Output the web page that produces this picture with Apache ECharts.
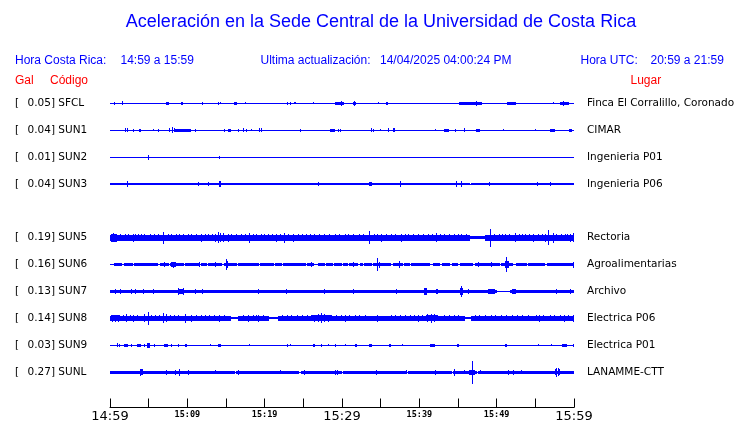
<!DOCTYPE html>
<html><head><meta charset="utf-8">
<script src="https://cdn.jsdelivr.net/npm/echarts@6/dist/echarts.min.js"></script>
<style>html,body{margin:0;padding:0;background:#fff}#c{width:740px;height:423px}</style>
</head><body><div id="c"></div>
<script>
// ---- data (time in minutes after 14:59; amplitude as half-height, 27 units = one trace spacing) ----
const stations = ['SFCL','SUN1','SUN2','SUN3','SUN5','SUN6','SUN7','SUN8','SUN9','SUNL'];
const rows = [0,1,2,3,5,6,7,8,9,10];
const galValues = [0.05,0.04,0.01,0.04,0.19,0.16,0.13,0.14,0.03,0.27];
const places = ['Finca El Corralillo, Coronado','CIMAR','Ingenieria P01','Ingenieria P06','Rectoria','Agroalimentarias','Archivo','Electrica P06','Electrica P01','LANAMME-CTT'];
const timeLabels = ['14:59','15:09','15:19','15:29','15:39','15:49','15:59'];
const majorLabels = ['14:59','15:29','15:59'];
const baseHalf = [0.5,0.5,0.5,1.5,3,1.5,1.5,2.5,0.5,1.5];

const gapsSFCL = [], gapsSUN1 = [], gapsSUN2 = [], gapsSUN9 = [];
const gapsSUN3 = [[46.5,46.7]];
const gapsSUN5 = [[46.55,48.5]];
const gapsSUN6 = [[0,0.56],[1.6,1.85],[2.93,3.15],[5.25,5.4],[6.25,6.47],[7.63,7.84],[9.57,9.74],[10.7,10.8],[11.64,11.77],[12.6,12.8],[14.44,14.87],[16.47,16.64],[19.3,19.5],[21.2,21.4],[22.2,22.4],[25.34,25.5],[26.4,27.0],[27.8,28.06],[28.8,29.0],[30.04,30.2],[30.8,31.03],[32.1,32.37],[32.75,32.97],[33.84,34.05],[36.4,36.68],[37.84,38.06],[38.8,39.05],[41.4,41.8],[42.67,42.97],[43.97,44.27],[45.04,45.26],[46.98,47.2],[50.43,50.65],[52.16,52.6],[53.88,54.18],[56.25,56.6]];
const gapsSUN7 = [[50.1,51.85]];
const gapsSUN8 = [[15.7,16.6],[20.5,21.8],[45.9,46.8]];
const gapsSUNL = [[1.38,1.5],[7.1,7.2],[16.16,16.4],[21.75,21.85],[24.5,24.8],[29.95,30.2],[38.35,38.6],[44.2,44.4],[47.4,47.6],[48.45,48.55],[53.0,53.1],[56.65,56.75]];

const evSFCL = [[0.6,0.6,1.5],[1.6,1.6,2],[7.25,7.6,1.5],[9.2,9.4,1.5],[11.95,11.95,1.5],[14.0,14.0,1.5],[14.25,14.25,1],[16.15,16.4,1.5],[17.5,17.5,1],[22.9,22.9,1.5],[23.35,23.35,1.5],[23.9,24.1,1],[26.3,26.3,1],[29.1,30.15,1.5],[29.9,29.9,2.5],[30.25,30.25,1.5],[31.5,31.75,1.5],[31.6,31.6,2.5],[34.7,34.7,1],[35.8,36.0,1.5],[45.25,48.05,1.5],[47.4,47.4,2.5],[51.4,52.45,1.5],[57.35,57.35,1],[58.3,59.35,1.5],[58.6,58.6,2.5]];
const evSUN1 = [[2.03,2.03,2],[2.28,2.28,2],[3.1,3.1,1.5],[3.8,3.8,1.5],[3.97,3.97,1.5],[5.6,5.6,1],[6.25,6.25,1.5],[7.67,7.67,2],[8.1,8.1,3],[8.28,8.28,2],[8.53,10.47,1.5],[11.08,11.08,1.5],[14.8,14.8,1.5],[15.3,15.65,1.5],[16.6,16.6,1.5],[17.24,17.24,2],[17.67,17.67,1.5],[18.3,18.3,1],[19.3,19.3,2],[19.6,19.6,2],[24.57,24.57,1.5],[28.5,29.1,1.5],[29.6,29.6,1.5],[29.87,29.87,1.5],[33.8,33.8,2],[34.05,34.05,1.5],[35.0,35.0,1],[36.0,36.1,2],[36.6,36.85,2],[42.15,42.15,1],[43.3,43.8,1.5],[44.7,44.7,1.5],[45.8,45.8,2],[47.4,47.85,1.5],[50.9,50.9,1],[54.96,54.96,1],[56.9,57.55,1.5],[59.4,59.8,1.5]];
const evSUN2 = [[4.96,4.96,2.5],[14.22,14.22,1.5]];
const evSUN3 = [[2.24,2.24,3],[11.4,11.4,2.5],[12.7,12.7,2.5],[14.1,14.3,3],[26.9,26.9,2.5],[33.5,33.85,2.5],[37.5,37.5,3],[44.8,44.8,3],[45.4,45.4,3],[49.1,49.1,2.5],[55.25,55.25,2.5],[57.0,57.0,2.5]];
const evSUN5 = [[46.55,48.5,1.5],[0.2,0.9,4],[0.5,0.5,4.5],[1.3,1.3,3.5],[1.95,1.95,3.5],[2.4,2.4,3.5],[3.0,3.0,4],[3.3,3.3,3.5],[3.65,3.65,3.5],[4.1,4.1,3.5],[4.5,4.5,3.5],[5.2,5.2,3.5],[5.8,5.8,3.5],[6.3,6.3,3.5],[6.9,6.9,6],[7.5,7.5,3.5],[7.97,7.97,3.5],[8.6,8.6,3.5],[9.0,9.0,3.5],[9.5,9.5,3.5],[10.1,10.1,3.5],[10.6,10.6,3.5],[11.2,11.2,3.5],[11.85,11.85,4],[12.3,12.3,3.5],[12.7,12.7,3.5],[13.3,13.3,3.5],[13.7,13.7,4],[14.0,14.0,5.5],[14.3,14.3,4.5],[14.65,14.65,4.5],[15.3,15.3,4],[15.7,15.7,3.5],[16.4,16.4,3.5],[17.0,17.0,3.5],[17.5,17.5,3.5],[18.1,18.1,5],[18.6,18.6,3.5],[19.0,19.0,3.5],[19.6,19.6,3.5],[20.0,20.0,3.5],[20.5,20.5,3.5],[21.0,21.0,3.5],[21.55,21.55,4],[22.1,22.1,3.5],[22.6,22.6,5],[23.1,23.1,3.5],[23.7,23.7,4],[24.35,24.35,3.5],[24.9,24.9,3.5],[25.4,25.4,3.5],[25.9,25.9,3.5],[26.5,26.5,3.5],[27.1,27.1,3.5],[27.8,27.8,3.5],[28.4,28.4,3.5],[29.1,29.1,3.5],[29.7,29.7,3.5],[30.4,30.4,3.5],[30.9,30.9,3.5],[31.5,31.5,3.5],[32.3,32.3,3.5],[32.8,32.8,3.5],[33.6,33.6,6.5],[34.2,34.2,3.5],[34.6,34.6,3.5],[35.1,35.1,4],[35.7,35.7,3.5],[36.4,36.4,3.5],[36.9,36.9,3.5],[37.7,37.7,4],[38.2,38.2,3.5],[38.6,38.6,3.5],[39.3,39.3,3.5],[39.9,39.9,3.5],[40.6,40.6,3.5],[41.2,41.2,3.5],[41.7,41.7,3.5],[42.25,42.25,4.5],[42.8,42.8,3.5],[43.3,43.3,3.5],[43.9,43.9,3.5],[44.6,44.6,3.5],[45.1,45.1,3.5],[45.5,45.5,3.5],[46.1,46.1,3.5],[49.15,49.15,9],[49.7,49.7,3.5],[50.4,50.4,3.5],[50.8,50.8,3.5],[51.1,51.1,3.5],[51.7,51.7,3.5],[52.4,52.4,4.5],[52.9,52.9,3.5],[53.3,53.3,3.5],[53.7,53.7,3.5],[54.2,54.2,3.5],[54.75,54.75,4],[55.4,55.4,3.5],[55.9,55.9,3.5],[56.3,56.3,4],[56.7,56.7,7.5],[57.3,57.3,5],[57.8,57.8,3.5],[58.4,58.4,3.5],[58.9,58.9,3.5],[59.2,59.2,3.5],[59.5,59.5,4],[59.95,59.95,4.5]];
const evSUN6 = [[7.0,7.0,2.5],[8.0,8.5,2.5],[8.2,8.2,3],[11.55,11.55,2.5],[13.6,13.6,2.5],[15.0,15.0,5.5],[15.2,15.2,3.5],[26.1,26.1,2.5],[31.5,31.5,2.5],[34.6,34.6,6.5],[34.8,34.8,3],[37.4,37.4,3.5],[47.6,47.6,2.5],[49.35,49.35,2.5],[51.1,51.6,3.5],[51.3,51.3,7.5],[59.95,59.95,3]];
const evSUN7 = [[0.65,0.65,2.5],[1.42,1.42,2.5],[2.8,2.8,2.5],[3.36,3.36,2.5],[3.66,3.66,2],[4.3,4.3,2.5],[5.6,5.6,2.5],[7.3,7.3,2],[8.84,9.6,2.5],[8.9,8.9,4],[9.5,9.5,3.5],[11.0,11.0,2.5],[11.95,11.95,2.5],[12.7,12.7,2],[13.6,13.6,2],[14.65,14.65,2],[19.2,19.2,2.5],[20.0,20.0,2],[22.85,22.85,2.5],[25.65,25.65,2],[27.8,27.8,2.5],[29.5,29.5,2],[31.0,31.0,2],[31.5,31.5,2.5],[33.8,33.8,2],[37.07,37.07,2.5],[38.15,38.15,2],[39.65,39.65,2],[40.65,40.95,3.5],[42.25,42.45,3],[45.35,45.7,3.5],[45.5,45.5,5.5],[46.3,46.3,2.5],[47.2,47.2,2],[48.9,49.8,2.5],[52.0,52.45,2.5],[54.1,54.1,2],[55.8,55.8,2],[57.75,57.75,3],[59.5,59.5,2.5],[59.9,59.9,2]];
const evSUN8 = [[15.7,16.6,1],[20.5,21.8,1],[45.9,46.8,1],[0.2,1.3,3],[0.3,0.3,3.5],[0.7,0.7,3.5],[1.1,1.1,3.5],[1.8,1.8,3],[2.15,2.15,4],[2.6,2.6,3],[3.0,3.0,3.5],[3.5,3.5,3],[4.5,4.5,4],[4.96,4.96,6.5],[5.4,5.4,3],[5.9,5.9,3],[6.4,6.4,3],[6.9,6.9,5],[7.3,7.3,4],[7.8,7.8,3],[8.3,8.3,3],[8.9,8.9,3],[9.7,9.7,4.5],[10.56,10.56,3.5],[11.2,11.2,3],[11.8,11.8,3],[12.3,12.3,3],[12.9,12.9,3],[13.5,13.5,3],[14.2,14.2,3.5],[14.8,14.8,3],[17.3,17.3,3],[17.9,17.9,3.5],[18.5,18.5,3],[18.9,18.9,3],[19.2,19.2,3.5],[19.8,19.8,3],[22.3,22.3,3],[22.9,22.9,3],[23.5,23.5,3],[24.2,24.2,3],[24.9,24.9,3],[25.5,25.5,3],[26.1,28.7,3],[26.4,26.4,3.5],[26.9,26.9,4],[27.4,27.4,5],[27.8,27.8,4],[28.3,28.3,3.5],[29.3,29.3,3],[29.9,29.9,3],[30.4,30.4,3.5],[31.0,31.0,3],[31.7,31.7,3],[32.3,32.3,3],[33.0,33.0,3],[34.6,34.6,3.5],[36.4,36.4,3],[36.9,36.9,3],[37.5,37.5,3],[38.2,38.2,3],[38.9,38.9,3],[39.4,39.4,3],[39.9,39.9,3.5],[40.4,40.4,3],[40.95,42.45,3],[41.1,41.1,4],[41.6,41.6,4.5],[42.0,42.0,4],[43.3,43.3,3],[43.9,43.9,3],[44.5,44.5,3],[45.0,45.0,3],[47.2,47.2,3],[47.8,47.8,3],[48.5,48.5,3],[49.35,49.35,3],[49.9,49.9,3],[50.6,50.6,3],[51.3,51.3,3],[52.0,52.0,3],[52.7,52.7,3],[53.4,53.4,3],[54.1,54.1,3],[55.2,55.2,3],[55.6,55.6,3.5],[56.0,56.0,3],[56.9,56.9,3],[57.5,57.5,3],[58.2,58.2,3],[58.8,58.8,3.5],[59.3,59.3,3],[59.9,59.9,3.5]];
const evSUN9 = [[1.0,1.0,2],[1.2,1.2,1.5],[1.85,2.37,1.5],[2.8,2.8,1.5],[3.58,4.0,1.5],[4.5,4.5,1.5],[4.87,5.17,2.5],[5.73,5.73,1.5],[7.1,7.45,1.5],[7.97,7.97,1.5],[8.84,8.84,1.5],[9.7,10.0,1.5],[13.0,13.0,1],[14.0,14.3,1.5],[18.1,18.1,1],[23.0,23.0,1.5],[23.3,23.3,1],[26.3,26.5,1.5],[27.4,27.4,1.5],[28.2,28.2,1],[29.1,29.1,1.5],[30.5,30.5,1],[31.7,32.0,1.5],[33.5,33.85,1.5],[36.2,36.35,1.5],[37.8,37.8,1],[41.4,42.0,1.5],[44.95,45.1,1.5],[51.1,51.3,1.5],[55.4,55.4,1],[57.1,57.1,1],[58.5,59.05,1.5],[59.9,59.9,1.5]];
const evSUNL = [[3.9,4.3,3],[4.0,4.0,3.5],[7.3,7.3,2.5],[8.5,8.5,2.5],[9.05,9.05,3.5],[10.2,10.2,2.5],[13.6,13.6,2],[16.6,16.6,2.5],[22.0,22.0,2],[25.2,25.2,2.5],[29.1,29.1,2.5],[29.4,29.4,2.5],[34.5,34.5,2.5],[38.4,38.4,2],[42.15,42.15,2.5],[44.5,44.5,3.5],[45.9,45.9,2],[46.55,47.2,2.5],[46.85,46.85,11.5],[47.85,47.85,2],[51.5,51.5,2.5],[52.15,52.15,2.5],[53.2,53.2,2],[57.55,57.6,3],[57.75,57.75,4.5],[57.95,57.95,4],[58.1,58.2,3]];

const gapsList = [gapsSFCL,gapsSUN1,gapsSUN2,gapsSUN3,gapsSUN5,gapsSUN6,gapsSUN7,gapsSUN8,gapsSUN9,gapsSUNL];
const eventsList = [evSFCL,evSUN1,evSUN2,evSUN3,evSUN5,evSUN6,evSUN7,evSUN8,evSUN9,evSUNL];
const UNITS_PER_ROW = 27;
const T_MAX = 60;

// build segments: thin line, base band outside gaps, events
const segData = [];
stations.forEach((s, i) => {
  const r = rows[i];
  segData.push([0, T_MAX, r, 0.5]);
  if (baseHalf[i] > 0.5) {
    let cur = 0;
    gapsList[i].slice().sort((a,b)=>a[0]-b[0]).forEach(g => {
      if (g[0] > cur) segData.push([cur, g[0], r, baseHalf[i]]);
      cur = Math.max(cur, g[1]);
    });
    if (cur < T_MAX) segData.push([cur, T_MAX, r, baseHalf[i]]);
  }
  eventsList[i].forEach(e => segData.push([e[0], e[1], r, e[2]]));
});

const BLUE = '#0000ff', RED = '#ff0000';
const chart = echarts.init(document.getElementById('c'), null, {renderer: 'canvas'});
const labelFont = 'DejaVu Sans';
const hdrFont = '"Liberation Sans", Arial, sans-serif';
const yCommon = {
  type: 'value', min: -1, max: 11, interval: 1, inverse: true,
  axisLine: {show: false}, axisTick: {show: false}, splitLine: {show: false}
};
chart.setOption({
  animation: false,
  backgroundColor: '#fff',
  grid: {left: 110, right: 166, top: 76.5, bottom: 22.5, containLabel: false},
  xAxis: {
    type: 'value', min: 0, max: T_MAX, interval: 5, offset: 8.5, position: 'bottom',
    axisLine: {show: true, onZero: false, lineStyle: {color: '#000', width: 1}},
    axisTick: {show: true, inside: true, length: 9, lineStyle: {color: '#000'}},
    splitLine: {show: false},
    axisLabel: {
      margin: 3, color: '#000',
      formatter: v => {
        if (v % 10 !== 0) return '';
        const lab = timeLabels[v / 10];
        return majorLabels.indexOf(lab) >= 0 ? '{b|' + lab + '}' : '{s|' + lab + '}';
      },
      rich: {
        b: {fontFamily: labelFont, fontSize: 13, lineHeight: 11, color: '#000', padding: [1,0,0,0]},
        s: {fontFamily: 'DejaVu Sans Mono', fontSize: 8.5, fontWeight: 'bold', lineHeight: 8, color: '#000', padding: [1,0,0,0]}
      }
    }
  },
  yAxis: [
    Object.assign({}, yCommon, {
      position: 'left',
      axisLabel: {
        align: 'left', margin: 95, color: '#000',
        formatter: v => {
          const i = rows.indexOf(v);
          if (i < 0) return '';
          return '{o|[}{v|' + galValues[i].toFixed(2) + '}{c|] ' + stations[i] + '}';
        },
        rich: {
          o: {width: 12.5, fontFamily: labelFont, fontSize: 10.5, color: '#000'},
          v: {fontFamily: labelFont, fontSize: 10.5, color: '#000'},
          c: {fontFamily: labelFont, fontSize: 10.5, color: '#000'}
        }
      }
    }),
    Object.assign({}, yCommon, {
      position: 'right',
      axisLabel: {
        align: 'left', margin: 13, color: '#000', fontFamily: labelFont, fontSize: 10.5,
        formatter: v => { const i = rows.indexOf(v); return i < 0 ? '' : places[i]; }
      }
    })
  ],
  series: [{
    type: 'custom',
    coordinateSystem: 'cartesian2d',
    xAxisIndex: 0, yAxisIndex: 0,
    silent: true, clip: false,
    encode: {x: [0, 1], y: 2},
    data: segData,
    renderItem: (params, api) => {
      const p0 = api.coord([api.value(0), api.value(2)]);
      const p1 = api.coord([api.value(1), api.value(2)]);
      const h = api.size([0, api.value(3) / UNITS_PER_ROW])[1];
      const x0 = Math.floor(p0[0]);
      const x1 = Math.max(x0 + 1, Math.round(p1[0]));
      const y0 = Math.round(p0[1] - h);
      const y1 = Math.max(y0 + 1, Math.round(p0[1] + h));
      return {type: 'rect', shape: {x: x0, y: y0, width: x1 - x0, height: y1 - y0}, style: {fill: BLUE}};
    }
  }],
  graphic: [
    {type: 'text', x: 381, y: 22, style: {text: 'Aceleración en la Sede Central de la Universidad de Costa Rica', fill: BLUE, font: '18px ' + hdrFont, align: 'center', verticalAlign: 'middle'}},
    {type: 'text', x: 15, y: 61, style: {text: 'Hora Costa Rica:', fill: BLUE, font: '12px ' + hdrFont, verticalAlign: 'middle'}},
    {type: 'text', x: 120.5, y: 61, style: {text: '14:59 a 15:59', fill: BLUE, font: '12px ' + hdrFont, verticalAlign: 'middle'}},
    {type: 'text', x: 260.5, y: 61, style: {text: 'Ultima actualización:', fill: BLUE, font: '12px ' + hdrFont, verticalAlign: 'middle'}},
    {type: 'text', x: 380, y: 61, style: {text: '14/04/2025 04:00:24 PM', fill: BLUE, font: '12px ' + hdrFont, verticalAlign: 'middle'}},
    {type: 'text', x: 580.5, y: 61, style: {text: 'Hora UTC:', fill: BLUE, font: '12px ' + hdrFont, verticalAlign: 'middle'}},
    {type: 'text', x: 650.5, y: 61, style: {text: '20:59 a 21:59', fill: BLUE, font: '12px ' + hdrFont, verticalAlign: 'middle'}},
    {type: 'text', x: 15, y: 81, style: {text: 'Gal', fill: RED, font: '12px ' + hdrFont, verticalAlign: 'middle'}},
    {type: 'text', x: 50, y: 81, style: {text: 'Código', fill: RED, font: '12px ' + hdrFont, verticalAlign: 'middle'}},
    {type: 'text', x: 630.5, y: 81, style: {text: 'Lugar', fill: RED, font: '12px ' + hdrFont, verticalAlign: 'middle'}}
  ]
});
</script></body></html>
